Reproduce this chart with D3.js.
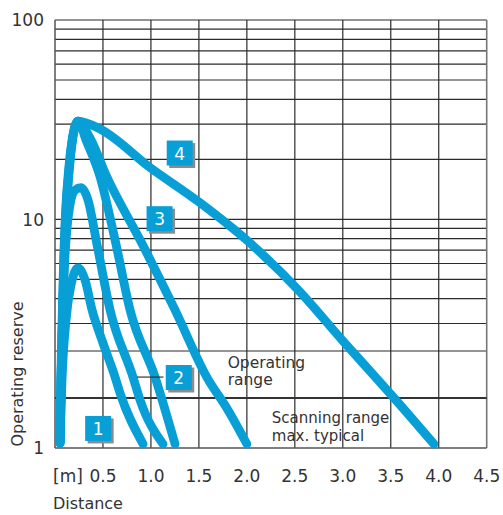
<!DOCTYPE html>
<html>
<head>
<meta charset="utf-8">
<script src="https://cdn.jsdelivr.net/npm/d3@7"></script>
<style>
body { margin: 0; background: #fff; }
text { font-family: "DejaVu Sans", sans-serif; fill: #333; }
</style>
</head>
<body>
<div id="vis"></div>
<script>
// ---- data ----
var xTicks = [0.5, 1.0, 1.5, 2.0, 2.5, 3.0, 3.5, 4.0, 4.5];
var yLabels = [1, 10, 100];
var yGrid = [2, 3, 4, 5, 6, 7, 8, 9, 10, 20, 30, 40, 50, 60, 70, 80, 90, 100];

// [distance m, operating reserve]
var curve1 = [[0.052,1.036],[0.073,1.625],[0.115,3.13],[0.167,4.68],[0.24,5.7],[0.313,4.96],
              [0.386,3.51],[0.50,2.25],[0.626,1.66],[0.678,1.48],[0.918,1.029]];
var curve2 = [[0.052,1.036],[0.063,1.625],[0.083,3.94],[0.115,7.87],[0.156,11.8],[0.209,14.0],
              [0.271,14.4],[0.344,12.5],[0.435,7.6],[0.574,3.51],[0.813,1.66],[0.886,1.41],[1.126,1.029]];
var curve2b = [[0.050,1.036],[0.060,1.625],[0.074,3.13],[0.090,6.25],[0.111,11.1],[0.142,17.7],
               [0.175,24.4],[0.24,31.1],[0.323,25.0],[0.469,16.4],[0.633,7.6],[0.782,3.51],[1.043,1.66],[1.251,1.029]];
var curve3 = [[0.054,1.036],[0.065,1.625],[0.080,3.13],[0.097,6.25],[0.118,11.1],[0.149,17.7],
              [0.180,24.4],[0.24,31.1],[0.365,25.6],[0.539,16.4],[0.904,7.6],[1.251,3.51],[1.582,1.66],[1.804,1.31],[2.0,1.029]];
var curve4 = [[0.052,1.036],[0.063,1.625],[0.078,3.13],[0.094,6.25],[0.115,11.1],[0.146,17.7],
              [0.177,24.4],[0.24,31.1],[0.469,28.4],[0.99,18.2],[1.512,12.1],[2.033,7.6],[2.555,4.32],
              [2.993,2.35],[3.285,1.73],[3.525,1.44],[3.95,1.029]];
var curves = [curve1, curve2, curve2b, curve3, curve4];

var boxLabels = ["1", "2", "3", "4"];
var boxX = [0.45, 1.29, 1.09, 1.30];
var boxY = [1.15, 1.655, 10.07, 21.5];

var operatingLimit = 1.43;
var pointer = [[0.855, 1.66], [1.13, 1.66]];

// ---- layout ----
var width = 503, height = 515;
var blue = "#079fd6";

var svg = d3.select("#vis").append("svg")
    .attr("width", width)
    .attr("height", height);

var x = d3.scaleLinear().domain([0, 4.5]).range([55, 486.7]);
// hand-drawn log axis: lowest decade is stretched in the original
var y = d3.scaleLog().domain([1, 2, 3, 100]).range([448, 351, 323.5, 20]);

// grid
svg.append("g").selectAll("line")
    .data(yGrid)
    .enter().append("line")
    .attr("x1", x(0)).attr("x2", x(4.5))
    .attr("y1", function(d) { return y(d); })
    .attr("y2", function(d) { return y(d); })
    .attr("stroke", "#2b2b2b")
    .attr("stroke-width", 1.2);

svg.append("g").selectAll("line")
    .data(xTicks)
    .enter().append("line")
    .attr("x1", function(d) { return x(d); })
    .attr("x2", function(d) { return x(d); })
    .attr("y1", y(100)).attr("y2", y(1))
    .attr("stroke", function(d) { return d == 4.5 ? "#777" : "#2b2b2b"; })
    .attr("stroke-width", function(d) { return d == 4.5 ? 1.6 : 1.2; });

// axes lines
svg.append("line")
    .attr("x1", x(0)).attr("x2", x(0))
    .attr("y1", y(100)).attr("y2", y(1))
    .attr("stroke", "#555").attr("stroke-width", 1.5);
svg.append("line")
    .attr("x1", x(0)).attr("x2", x(4.5))
    .attr("y1", y(1)).attr("y2", y(1))
    .attr("stroke", "#555").attr("stroke-width", 1.5);

// operating range limit
svg.append("line")
    .attr("x1", x(0)).attr("x2", x(4.5))
    .attr("y1", y(operatingLimit)).attr("y2", y(operatingLimit))
    .attr("stroke", "#333").attr("stroke-width", 2);

// tick labels
svg.append("g").selectAll("text")
    .data(yLabels)
    .enter().append("text")
    .attr("x", 44)
    .attr("y", function(d) { return y(d); })
    .attr("dy", "0.38em")
    .attr("text-anchor", "end")
    .style("font-size", "17px")
    .text(function(d) { return d; });

svg.append("g").selectAll("text")
    .data(xTicks)
    .enter().append("text")
    .attr("x", function(d) { return x(d); })
    .attr("y", 482)
    .attr("text-anchor", "middle")
    .style("font-size", "17px")
    .text(function(d) { return d.toFixed(1); });

svg.append("text")
    .attr("x", x(0) - 2)
    .attr("y", 482)
    .style("font-size", "17px")
    .text("[m]");

// axis titles
svg.append("text")
    .attr("x", 53)
    .attr("y", 509)
    .style("font-size", "16px")
    .text("Distance");

svg.append("text")
    .attr("transform", "translate(23," + 374 + ") rotate(-90)")
    .attr("text-anchor", "middle")
    .style("font-size", "16px")
    .text("Operating reserve");

// annotations
var opText = svg.append("text")
    .attr("x", x(1.80))
    .attr("y", y(1.77))
    .style("font-size", "15.5px");
opText.append("tspan").text("Operating");
opText.append("tspan").attr("x", x(1.80)).attr("dy", 17).text("range");

var scText = svg.append("text")
    .attr("x", x(2.26))
    .attr("y", y(1.196))
    .style("font-size", "15px");
scText.append("tspan").text("Scanning range");
scText.append("tspan").attr("x", x(2.26)).attr("dy", 18).text("max. typical");

// curves
var line = d3.line()
    .x(function(d) { return x(d[0]); })
    .y(function(d) { return y(d[1]); })
    .curve(d3.curveMonotoneX);

svg.append("g").selectAll("path")
    .data(curves)
    .enter().append("path")
    .attr("d", line)
    .attr("fill", "none")
    .attr("stroke", blue)
    .attr("stroke-width", 8.8)
    .attr("stroke-linecap", "round")
    .attr("stroke-linejoin", "round");

// pointer for label 2
svg.append("line")
    .attr("x1", x(pointer[0][0])).attr("x2", x(pointer[1][0]))
    .attr("y1", y(pointer[0][1])).attr("y2", y(pointer[1][1]))
    .attr("stroke", "#333").attr("stroke-width", 1.2);

// numbered boxes
var box = svg.append("g").selectAll("g")
    .data(boxLabels)
    .enter().append("g")
    .attr("transform", function(d, i) {
        return "translate(" + (x(boxX[i]) - 13) + "," + (y(boxY[i]) - 12.5) + ")";
    });

box.append("rect")
    .attr("x", 2.5).attr("y", 2.5)
    .attr("width", 26).attr("height", 25)
    .attr("fill", "#8c8c8c");
box.append("rect")
    .attr("width", 26).attr("height", 25)
    .attr("fill", blue);
box.append("text")
    .attr("x", 13).attr("y", 19)
    .attr("text-anchor", "middle")
    .style("font-size", "17px")
    .style("fill", "#fff")
    .text(function(d) { return d; });
</script>
</body>
</html>
